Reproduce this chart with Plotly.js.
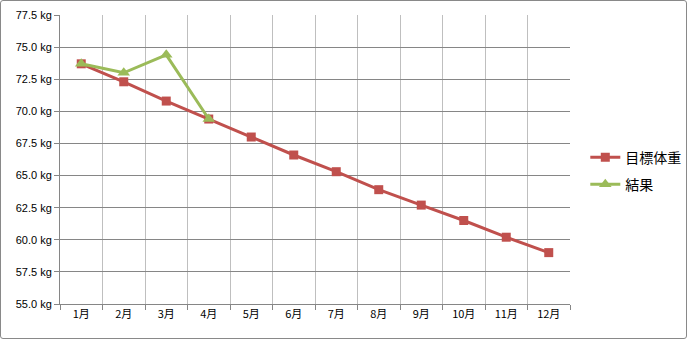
<!DOCTYPE html>
<html>
<head>
<meta charset="utf-8">
<script src="https://cdn.plot.ly/plotly-3.0.1.min.js"></script>
<style>
html,body{margin:0;padding:0;background:#fff;}
#wrap{position:absolute;left:0;top:0;width:685px;height:337px;border:1px solid #898989;border-radius:3px;}
#chart{position:absolute;left:-1px;top:-1px;width:687px;height:339px;}
</style>
</head>
<body>
<div id="wrap"><div id="chart"></div></div>
<script>
var months = ["1月","2月","3月","4月","5月","6月","7月","8月","9月","10月","11月","12月"];
var targetWeight = [73.7, 72.3, 70.8, 69.4, 68.0, 66.6, 65.3, 63.9, 62.7, 61.5, 60.2, 59.0];
var resultMonths = ["1月","2月","3月","4月"];
var resultWeight = [73.7, 73.0, 74.4, 69.4];

var traces = [
  {x: months, y: targetWeight, name: "目標体重", type: "scatter", mode: "lines+markers", legendgroup: "a",
   line: {color: "#C0504D", width: 3}, marker: {symbol: "square", size: 9, color: "#C0504D"}},
  {x: resultMonths, y: resultWeight, name: "結果", type: "scatter", mode: "lines+markers", legendgroup: "b",
   line: {color: "#9BBB59", width: 3}, marker: {symbol: "triangle-up", size: 11, color: "#9BBB59"}}
];

var layout = {
  width: 687, height: 339,
  margin: {l: 60, r: 117, t: 15, b: 35, autoexpand: false},
  paper_bgcolor: "rgba(0,0,0,0)", plot_bgcolor: "#fff",
  font: {family: "Liberation Sans, Arial, sans-serif", size: 11, color: "#000"},
  showlegend: true,
  legend: {x: 1.03, y: 0.46, xanchor: "left", yanchor: "middle",
           font: {family: "Noto Sans CJK JP, sans-serif", size: 14, color: "#000"},
           tracegroupgap: 6, itemwidth: 30},
  xaxis: {type: "category", categoryorder: "array", categoryarray: months,
          range: [-0.5, 11.5], tickson: "boundaries", ticks: "outside", ticklen: 5,
          tickcolor: "#868686", showgrid: true, gridcolor: "#BFBFBF", gridwidth: 1,
          showline: true, linecolor: "#868686", linewidth: 1, zeroline: false,
          tickfont: {family: "Noto Sans CJK JP, sans-serif", size: 11}},
  yaxis: {range: [55, 77.5], dtick: 2.5, tick0: 55, tickformat: ".1f", ticksuffix: " kg",
          ticks: "outside", ticklen: 5, tickcolor: "#868686",
          showgrid: true, gridcolor: "#868686", gridwidth: 1,
          showline: true, linecolor: "#868686", linewidth: 1, zeroline: false},
};

Plotly.newPlot("chart", traces, layout, {displayModeBar: false, staticPlot: true});
</script>
</body>
</html>
